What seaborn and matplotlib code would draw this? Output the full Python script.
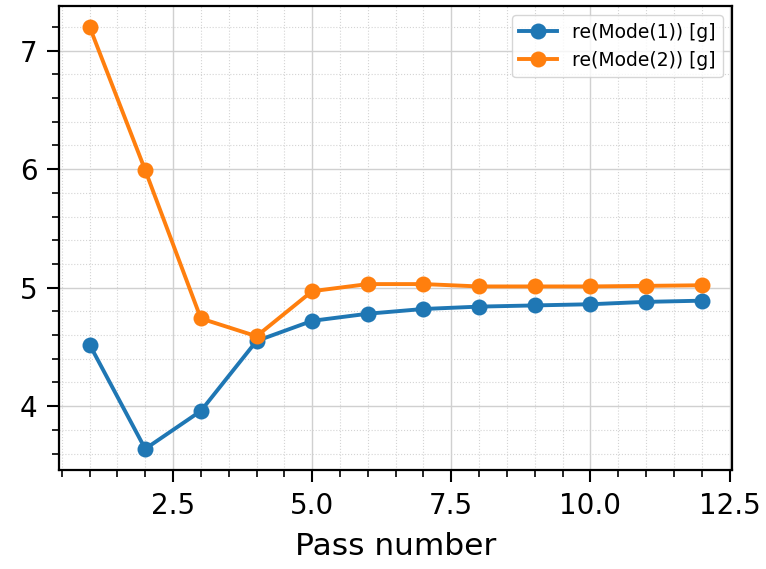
import numpy as np
import pandas as pd
import seaborn as sns
import matplotlib
matplotlib.use("Agg")
import matplotlib.pyplot as plt
from matplotlib.ticker import MultipleLocator

# Values
passes = [1, 2, 3, 4, 5, 6, 7, 8, 9, 10, 11, 12]
mode1 = [4.52, 3.64, 3.96, 4.55, 4.72, 4.78, 4.82, 4.84, 4.85, 4.86, 4.88, 4.89]
mode2 = [7.20, 5.99, 4.74, 4.59, 4.97, 5.03, 5.03, 5.01, 5.01, 5.01, 5.015, 5.02]
labels = ["re(Mode(1)) [g]", "re(Mode(2)) [g]"]

df = pd.concat([
    pd.DataFrame({"pass": passes, "value": mode1, "series": labels[0]}),
    pd.DataFrame({"pass": passes, "value": mode2, "series": labels[1]}),
])

fig = plt.figure(figsize=(7.66, 5.69), dpi=100)
ax = fig.add_axes([0.077, 0.174, 0.879, 0.816])

sns.lineplot(data=df, x="pass", y="value", hue="series",
             palette=["#1f77b4", "#ff7f0e"], marker="o", markersize=11.5,
             markeredgewidth=0, linewidth=2.8, ax=ax)

ax.xaxis.set_major_locator(MultipleLocator(2.5))
ax.xaxis.set_minor_locator(MultipleLocator(0.5))
ax.yaxis.set_major_locator(MultipleLocator(1))
ax.yaxis.set_minor_locator(MultipleLocator(0.2))

ax.grid(which="major", color="#d0d0d0", linewidth=1.0, linestyle="-")
ax.grid(which="minor", color="#d4d4d4", linewidth=0.8, linestyle=":")
ax.set_axisbelow(True)

ax.tick_params(which="major", labelsize=20, length=8.5, width=1.5, pad=7)
ax.tick_params(which="minor", length=5, width=1.2)
for sp in ax.spines.values():
    sp.set_linewidth(1.6)

ax.set_xlabel("Pass number", fontsize=22.5, labelpad=9)
ax.set_ylabel("")
ax.legend(title=None, loc="upper right", fontsize=13.5)

fig.savefig("out.png", dpi=100)
